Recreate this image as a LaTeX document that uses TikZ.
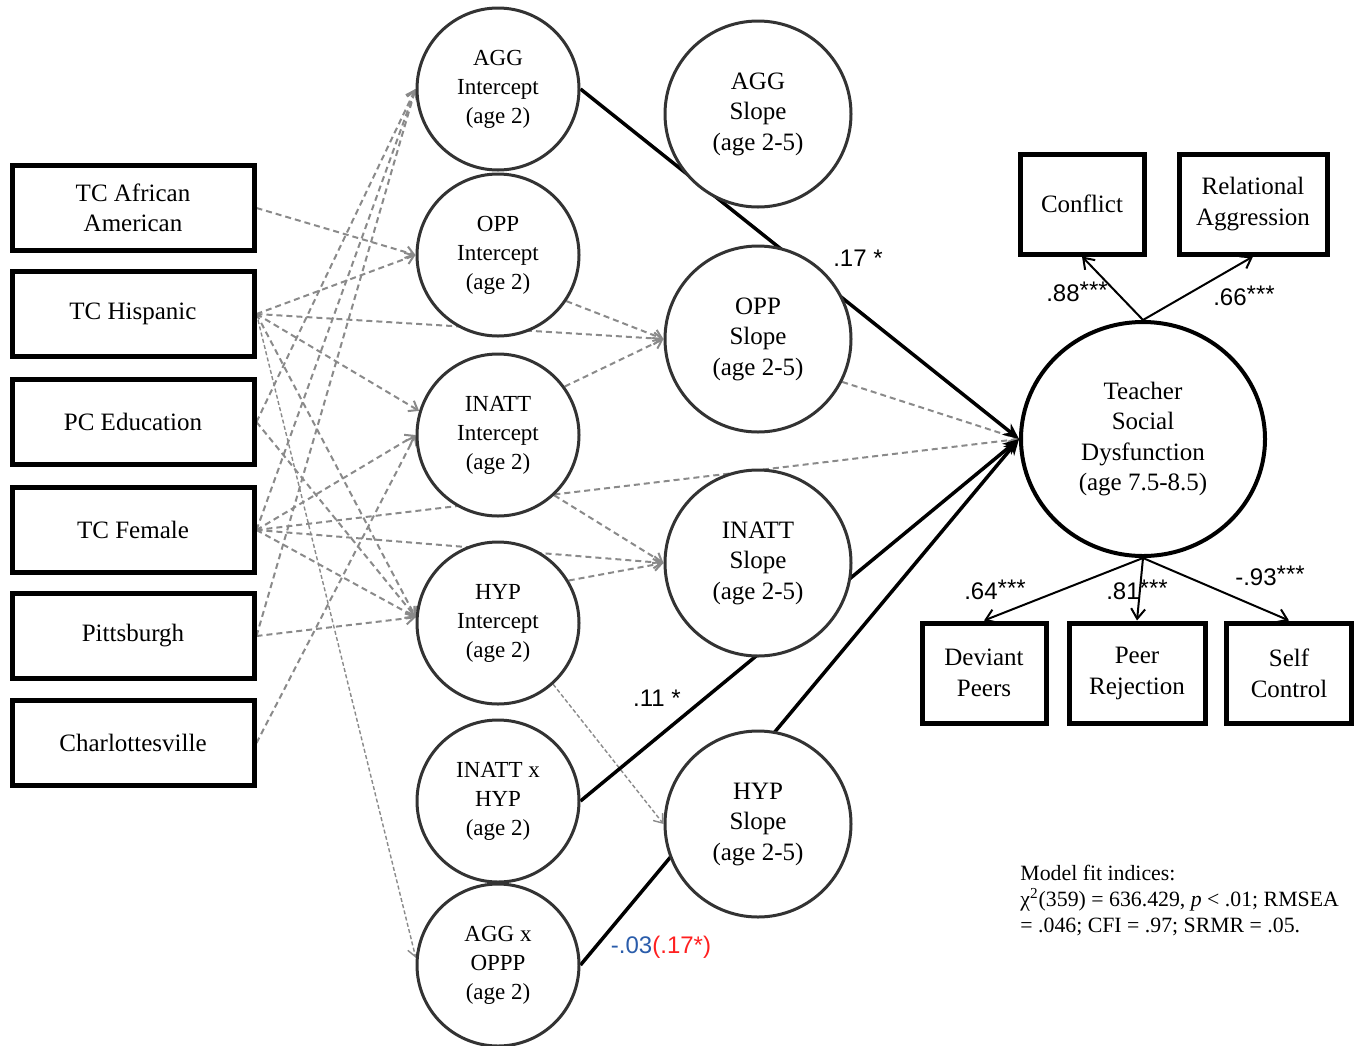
\documentclass[tikz,border=0pt]{standalone}
\usepackage{fontspec}
\setmainfont{Liberation Serif}
\newfontfamily\lsans{Liberation Sans}
\usetikzlibrary{arrows.meta,shapes.geometric,backgrounds}
\definecolor{dgray}{HTML}{8A8A8A}
\definecolor{cgray}{HTML}{333333}
\definecolor{lblue}{HTML}{2A5CAA}
\definecolor{lred}{HTML}{FF2020}
\newcommand{\stars}{\raisebox{0.12em}{\fontsize{12}{12}\selectfont ***}}
\begin{document}
\begin{tikzpicture}[x=0.5pt,y=-0.5pt,
  lbox/.style={draw=black, line width=2.5pt, fill=white, align=center, inner sep=0pt,
    minimum width=121pt, minimum height=42.5pt, font=\fontsize{12.5}{15}\selectfont},
  rbox/.style={draw=black, line width=2.5pt, fill=white, align=center, inner sep=0pt,
    minimum height=50pt, font=\fontsize{12.5}{15.5}\selectfont},
  intc/.style={circle, draw=cgray, line width=1.5pt, fill=white, align=center, inner sep=0pt,
    minimum size=81pt, font=\fontsize{11.5}{14.5}\selectfont},
  slp/.style={circle, draw=cgray, line width=1.5pt, fill=white, align=center, inner sep=0pt,
    minimum size=93pt, font=\fontsize{12.5}{15.25}\selectfont},
  dsh/.style={draw=dgray, line width=1pt, dash pattern=on 3pt off 2pt,
    -{Straight Barb[length=4pt,width=6pt]}},
  fdsh/.style={draw=dgray, line width=0.7pt, dash pattern=on 2pt off 1.2pt,
    -{Straight Barb[length=4pt,width=6pt]}},
  sol/.style={draw=black, line width=1.75pt, -{Stealth[length=8pt,width=7pt]}},
  load/.style={draw=black, line width=1pt, -{Straight Barb[length=5pt,width=7pt]}},
  lab/.style={font=\lsans\fontsize{12}{14}\selectfont, inner sep=0pt}
]
\useasboundingbox (0,0) rectangle (1360,1045);

% left observed boxes
\node[lbox] (tcaa) at (133,208) {TC African\\American};
\node[lbox] (tch) at (133,314) {TC Hispanic};
\node[lbox] (pce) at (133,422) {PC Education};
\node[lbox] (tcf) at (133,530) {TC Female};
\node[lbox] (pit) at (133,636) {Pittsburgh};
\node[lbox] (cha) at (133,743) {Charlottesville};

% intercepts
\node[intc] (aggI) at (498,89) {AGG\\Intercept\\(age 2)};
\node[intc] (oppI) at (498,255) {OPP\\Intercept\\(age 2)};
\node[intc] (inaI) at (498,435) {INATT\\Intercept\\(age 2)};
\node[intc] (hypI) at (498,623) {HYP\\Intercept\\(age 2)};
\node[intc] (ixh) at (498,801) {INATT x\\HYP\\(age 2)};
\node[intc] (axo) at (498,965) {AGG x\\OPPP\\(age 2)};

% slopes
\node[slp] (aggS) at (758,114) {AGG\\Slope\\(age 2-5)};
\node[slp] (oppS) at (758,339) {OPP\\Slope\\(age 2-5)};
\node[slp] (inaS) at (758,563) {INATT\\Slope\\(age 2-5)};
\node[slp] (hypS) at (758,824) {HYP\\Slope\\(age 2-5)};

% outcome
\node[ellipse, draw=black, line width=2pt, fill=white, align=center, inner sep=0pt,
  minimum width=122pt, minimum height=117pt, font=\fontsize{12.5}{15.3}\selectfont]
  (tsd) at (1143,439) {Teacher\\Social\\Dysfunction\\(age 7.5-8.5)};

% indicators
\node[rbox, minimum width=62pt] (con) at (1082,204) {Conflict};
\node[rbox, minimum width=74pt] (rel) at (1253,204) {Relational\\Aggression};
\node[rbox, minimum width=62pt] (dev) at (984,673) {Deviant\\Peers};
\node[rbox, minimum width=68pt] (pr) at (1137,673) {Peer\\Rejection};
\node[rbox, minimum width=62.5pt] (sc) at (1289,673) {Self\\Control};

\begin{pgfonlayer}{background}
  % covariates -> growth factors
  \draw[dsh] (tcaa.east) -- (oppI.west);
  \draw[dsh] (tch.east) -- (oppI.west);
  \draw[dsh] (tch.east) -- (oppS.west);
  \draw[dsh] (tch.east) -- (inaI.163);
  \draw[dsh] (tch.east) -- (hypI.176);
  \draw[fdsh] (tch.east) -- (axo.175);
  \draw[dsh] (pce.east) -- (aggI.west);
  \draw[dsh] (pce.east) -- (hypI.176);
  \draw[dsh] (tcf.east) -- (aggI.west);
  \draw[dsh] (tcf.east) -- (inaI.west);
  \draw[dsh] (tcf.east) -- (hypI.176);
  \draw[dsh] (tcf.east) -- (inaS.west);
  \draw[dsh] (tcf.east) -- (tsd.west);
  \draw[dsh] (pit.east) -- (aggI.west);
  \draw[dsh] (pit.east) -- (hypI.176);
  \draw[dsh] (cha.east) -- (inaI.west);
  % intercepts -> slopes
  \draw[dsh] (oppI.-34) -- (oppS.west);
  \draw[dsh] (inaI.36) -- (oppS.west);
  \draw[dsh] (inaI.-47) -- (inaS.west);
  \draw[dsh] (hypI.31) -- (inaS.west);
  \draw[fdsh] (hypI.-48) -- (hypS.west);
  \draw[dsh] (oppS.-27) -- (tsd.west);
  % significant paths
  \draw[sol] (aggI.east) -- (tsd.west);
  \draw[sol] (ixh.east) -- (tsd.west);
  \draw[sol] (axo.east) -- (tsd.west);
\end{pgfonlayer}

% loadings
\draw[load] (tsd.north) -- (con.south);
\draw[load] (tsd.north) -- (rel.south);
\draw[load] (tsd.south) -- (dev.north);
\draw[load] (tsd.south) -- (pr.north);
\draw[load] (tsd.south) -- (sc.north);

% labels
\node[lab] (l17) at (858,258) {.17 *};
\node[lab] (l11) at (657,698) {.11 *};
\node[lab] (l03) at (661,947) {\textcolor{lblue}{-.03}\textcolor{lred}{(.17*)}};
\node[lab] (l88) at (1077,292) {.88\stars};
\node[lab] (l66) at (1244,296) {.66\stars};
\node[lab] (l64) at (995,590) {.64\stars};
\node[lab] (l81) at (1137,590) {.81\stars};
\node[lab] (l93) at (1270,576) {-.93\stars};

\node[anchor=west, align=left, inner sep=0pt, font=\fontsize{10.9}{13}\selectfont]
  (fit) at (1020,900) {Model fit indices:\\χ\textsuperscript{2}(359) = 636.429, \textit{p} < .01; RMSEA\\= .046; CFI = .97; SRMR = .05.};
\end{tikzpicture}
\end{document}
